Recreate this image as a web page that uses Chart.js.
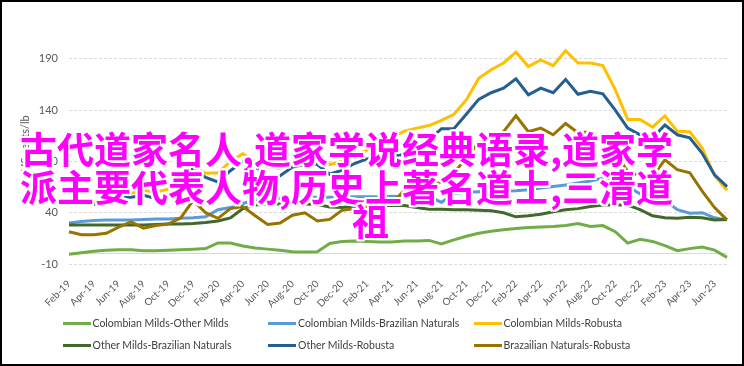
<!DOCTYPE html>
<html lang="en">
<head>
    <meta charset="UTF-8">
    <meta name="viewport" content="width=device-width, initial-scale=1.0">
    <title>Coffee group price differentials</title>
    <style>
        body {
            margin: 0;
            background: #fff;
        }
        .frame {
            position: relative;
            width: 744px;
            height: 366px;
            box-sizing: border-box;
            border: 2px solid #000;
            overflow: hidden;
            background: #fff;
        }
        .frame canvas {
            position: absolute;
            left: 0;
            top: 0;
        }
        #legend {
            position: absolute;
            left: 60.5px;
            top: 310px;
            display: grid;
            grid-template-columns: 205.5px 205.5px 205.5px;
            grid-auto-rows: 22px;
            font-family: Lato, sans-serif;
            font-size: 10.5px;
            color: #404040;
        }
        .item {
            display: flex;
            align-items: center;
            white-space: nowrap;
        }
        .swatch {
            width: 28px;
            height: 3px;
            margin-right: 2px;
        }
        .overlay {
            position: absolute;
            left: 18px;
            top: 127px;
            font-family: "Noto Sans CJK SC", sans-serif;
            font-weight: bold;
            font-size: 37px;
            line-height: 38px;
            color: #ff00ff;
            white-space: nowrap;
            pointer-events: none;
            text-shadow: -2px -2px 0 #fff, 2px -2px 0 #fff, -2px 2px 0 #fff, 2px 2px 0 #fff,
                         0 -2px 0 #fff, 0 2px 0 #fff, -2px 0 0 #fff, 2px 0 0 #fff;
        }
        .overlay .last {
            padding-left: 332px;
            margin-top: -4px;
        }
    </style>
</head>
<body>
    <div class="frame">
        <canvas id="chart" width="740" height="362"></canvas>
        <div id="legend"></div>
        <div class="overlay">
            <div>古代道家名人,道家学说经典语录,道家学</div>
            <div>派主要代表人物,历史上著名道士,三清道</div>
            <div class="last">祖</div>
        </div>
    </div>
    <script src="https://cdn.jsdelivr.net/npm/chart.js@4"></script>
    <script>
        const categories = [
            'Feb-19', 'Mar-19', 'Apr-19', 'May-19', 'Jun-19', 'Jul-19', 'Aug-19', 'Sep-19', 'Oct-19', 'Nov-19', 'Dec-19',
            'Jan-20', 'Feb-20', 'Mar-20', 'Apr-20', 'May-20', 'Jun-20', 'Jul-20', 'Aug-20', 'Sep-20', 'Oct-20', 'Nov-20', 'Dec-20',
            'Jan-21', 'Feb-21', 'Mar-21', 'Apr-21', 'May-21', 'Jun-21', 'Jul-21', 'Aug-21', 'Sep-21', 'Oct-21', 'Nov-21', 'Dec-21',
            'Jan-22', 'Feb-22', 'Mar-22', 'Apr-22', 'May-22', 'Jun-22', 'Jul-22', 'Aug-22', 'Sep-22', 'Oct-22', 'Nov-22', 'Dec-22',
            'Jan-23', 'Feb-23', 'Mar-23', 'Apr-23', 'May-23', 'Jun-23', 'Jul-23'
        ];

        const colombianOther = [-0.5, 1, 2.5, 3.5, 4, 4, 3, 3, 3.5, 4,
            4.5, 5, 10.5, 10.5, 7.5, 5.5, 4.5, 3.5, 2, 1.8,
            2, 10, 12, 12.5, 12, 11.5, 11.5, 12.5, 12.5, 13,
            9.5, 13.5, 17, 20, 22, 23.5, 24.5, 25.5, 26, 26.5,
            27.5, 29.5, 26.5, 27.5, 21.5, 10.3, 14, 12, 8, 3,
            5, 6.5, 3.5, -3.5];
        const colombianBrazil = [30, 31.5, 32.5, 33, 33, 33, 33.5, 34, 34, 34.5,
            35, 36, 43, 45, 49, 52.5, 53, 54, 54.5, 55,
            55, 55, 55, 55.5, 55.5, 55.5, 56, 55.5, 55.5, 56,
            50, 59, 60, 60.5, 60.5, 61, 61.5, 62.5, 64, 65.5,
            67, 69, 71, 73.5, 72, 65.5, 58.5, 55.5, 52, 43,
            39.5, 40, 35, 33];
        const colombianRobusta = [51, 51, 51, 52.5, 55, 59, 62, 60, 63, 67,
            86, 78.5, 79, 90, 97.5, 90, 84.5, 83.5, 90, 95,
            96.5, 87, 90, 95, 101, 107, 113, 119.5, 122.5, 125,
            130, 136, 150, 171, 179.5, 186, 196.5, 182.5, 189, 183.5,
            198, 186, 186, 183.5, 160, 131, 131, 123.5, 134.5, 119.5,
            119, 103, 76, 62];
        const otherBrazil = [28, 28, 28, 28, 28, 28, 28, 28.5, 29, 29,
            29.5, 30.5, 32, 35, 44, 47.5, 48.5, 48.5, 48.5, 48.5,
            48, 45.5, 45, 46.5, 47, 47, 47, 47, 45, 43.5,
            43.5, 43, 43, 42.5, 42, 40, 36, 37, 38.5, 41,
            43, 44, 46, 47.5, 47.5, 47.5, 43, 37, 35, 34.5,
            35.5, 35, 33, 33.5];
        const otherRobusta = [49.5, 48, 48, 49, 55, 55, 57, 54, 56.5, 60,
            83.5, 74.5, 70, 81, 90, 85, 75.5, 76, 84.5, 87,
            87, 77.5, 81.5, 88, 92.5, 93.5, 95, 97, 105.5, 111,
            122, 122, 136, 150.5, 157, 161.5, 170.5, 155, 161.5, 157,
            170, 155.5, 158.5, 156, 140, 122.5, 116, 113, 125.5, 116,
            113, 98, 77, 65.5];
        const brazilRobusta = [21.5, 18.5, 18.5, 20, 26, 31, 25, 27.5, 29, 35,
            52, 40, 34.5, 44, 46, 37, 28.5, 30, 37.5, 40,
            32, 33.5, 42.5, 44, 46, 47, 48.5, 62, 64, 65.5,
            70, 79, 93, 108.5, 112, 119, 134.5, 119, 122.5, 116,
            127, 118, 119, 110, 99, 80, 76, 75.5, 91.5, 82,
            79, 61, 45, 33];

        const seriesNames = ['Colombian Milds-Other Milds', 'Colombian Milds-Brazilian Naturals', 'Colombian Milds-Robusta',
            'Other Milds-Brazilian Naturals', 'Other Milds-Robusta', 'Brazailian Naturals-Robusta'];
        const seriesValues = [colombianOther, colombianBrazil, colombianRobusta, otherBrazil, otherRobusta, brazilRobusta];
        const seriesColors = ['#70ad47', '#5b9bd5', '#ffc000', '#43682b', '#255e91', '#997300'];

        const yTicks = [-10, 0, 40, 90, 140, 190];
        const font = 'Lato, sans-serif';

        const ctx = document.getElementById('chart').getContext('2d');
        new Chart(ctx, {
            type: 'line',
            data: {
                labels: categories,
                datasets: seriesNames.map((name, i) => ({
                    label: name,
                    data: seriesValues[i],
                    borderColor: seriesColors[i],
                    backgroundColor: seriesColors[i],
                    order: seriesNames.length - i
                }))
            },
            options: {
                responsive: false,
                animation: false,
                layout: { padding: { left: 13, right: 15, top: 21, bottom: 0 } },
                plugins: {
                    legend: { display: false },
                    tooltip: { enabled: false }
                },
                elements: {
                    point: { radius: 0 },
                    line: { borderWidth: 3, tension: 0 }
                },
                scales: {
                    x: {
                        grid: { display: false },
                        border: { display: false },
                        ticks: {
                            autoSkip: false,
                            minRotation: 45,
                            maxRotation: 45,
                            padding: 6,
                            color: '#595959',
                            font: { family: font, size: 10 },
                            callback: (v, i) => i % 2 === 0 ? categories[i] : ''
                        },
                        afterFit: s => { s.height = 100; }
                    },
                    y: {
                        min: -10,
                        max: 225,
                        afterBuildTicks: s => { s.ticks = yTicks.map(v => ({ value: v })); },
                        afterFit: s => { s.width = 54; },
                        grid: { color: '#d9d9d9', lineWidth: 1, drawTicks: false },
                        border: {
                            display: false,
                            dash: c => (c.tick && c.tick.value === 0) ? [] : [3, 2]
                        },
                        ticks: {
                            padding: 11,
                            color: '#595959',
                            font: { family: font, size: 11 },
                            callback: v => v === 0 ? '' : v
                        },
                        title: {
                            display: true,
                            text: 'US cents/lb',
                            color: '#595959',
                            font: { family: font, size: 11 },
                            padding: { top: 4, bottom: 0 }
                        }
                    }
                }
            }
        });

        // legend laid out in fixed columns like the original
        const legend = document.getElementById('legend');
        seriesNames.forEach((name, i) => {
            legend.insertAdjacentHTML('beforeend',
                `<div class="item"><span class="swatch" style="background:${seriesColors[i]}"></span>${name}</div>`);
        });
    </script>
</body>
</html>
